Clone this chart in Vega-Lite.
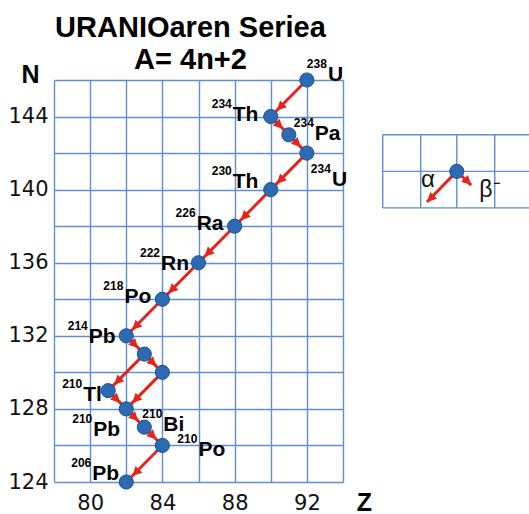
{
  "$schema": "https://vega.github.io/schema/vega-lite/v6.json",
  "width": 289,
  "height": 402,
  "autosize": "none",
  "padding": {"left": 54, "top": 80, "right": 186, "bottom": 32},
  "background": "white",
  "config": {
    "view": {"stroke": null},
    "font": "Liberation Sans",
    "axis": {
      "domain": false,
      "ticks": false,
      "grid": true,
      "gridColor": "#5f8fcf",
      "gridWidth": 1.4,
      "gridOpacity": 1,
      "tickCount": 40,
      "format": "d",
      "labelOverlap": false,
      "labelBound": false,
      "labelFlush": false,
      "labelFont": "DejaVu Sans",
      "labelFontSize": 21,
      "labelColor": "#111111",
      "titleFont": "Liberation Sans",
      "titleFontSize": 25,
      "titleFontWeight": "bold",
      "titleColor": "#000000"
    },
    "axisX": {"labelPadding": 10, "titleX": 310, "titleY": 28, "titleBaseline": "alphabetic", "titleAlign": "center"},
    "axisY": {"labelPadding": 6, "titleAngle": 0, "titleX": -24, "titleY": 2, "titleBaseline": "alphabetic", "titleAlign": "center"}
  },
  "title": {
    "text": ["URANIOaren Seriea", "A= 4n+2"],
    "font": "Liberation Sans",
    "fontSize": 29,
    "fontWeight": "bold",
    "color": "#000000",
    "anchor": "middle",
    "dx": -8,
    "offset": -17,
    "lineHeight": 32
  },
  "datasets": {
    "nuclides": [
      {"id": "238U", "A": "238", "sym": "U", "Z": 92, "N": 146},
      {"id": "234Th", "A": "234", "sym": "Th", "Z": 90, "N": 144},
      {"id": "234Pa", "A": "234", "sym": "Pa", "Z": 91, "N": 143},
      {"id": "234U", "A": "234", "sym": "U", "Z": 92, "N": 142},
      {"id": "230Th", "A": "230", "sym": "Th", "Z": 90, "N": 140},
      {"id": "226Ra", "A": "226", "sym": "Ra", "Z": 88, "N": 138},
      {"id": "222Rn", "A": "222", "sym": "Rn", "Z": 86, "N": 136},
      {"id": "218Po", "A": "218", "sym": "Po", "Z": 84, "N": 134},
      {"id": "214Pb", "A": "214", "sym": "Pb", "Z": 82, "N": 132},
      {"id": "214Bi", "A": "214", "sym": "Bi", "Z": 83, "N": 131},
      {"id": "214Po", "A": "214", "sym": "Po", "Z": 84, "N": 130},
      {"id": "210Tl", "A": "210", "sym": "Tl", "Z": 81, "N": 129},
      {"id": "210Pb", "A": "210", "sym": "Pb", "Z": 82, "N": 128},
      {"id": "210Bi", "A": "210", "sym": "Bi", "Z": 83, "N": 127},
      {"id": "210Po", "A": "210", "sym": "Po", "Z": 84, "N": 126},
      {"id": "206Pb", "A": "206", "sym": "Pb", "Z": 82, "N": 124}
    ],
    "decays": [
      {"from": "238U", "to": "234Th", "type": "alpha", "z1": 92, "n1": 146, "z2": 90, "n2": 144},
      {"from": "234Th", "to": "234Pa", "type": "beta", "z1": 90, "n1": 144, "z2": 91, "n2": 143},
      {"from": "234Pa", "to": "234U", "type": "beta", "z1": 91, "n1": 143, "z2": 92, "n2": 142},
      {"from": "234U", "to": "230Th", "type": "alpha", "z1": 92, "n1": 142, "z2": 90, "n2": 140},
      {"from": "230Th", "to": "226Ra", "type": "alpha", "z1": 90, "n1": 140, "z2": 88, "n2": 138},
      {"from": "226Ra", "to": "222Rn", "type": "alpha", "z1": 88, "n1": 138, "z2": 86, "n2": 136},
      {"from": "222Rn", "to": "218Po", "type": "alpha", "z1": 86, "n1": 136, "z2": 84, "n2": 134},
      {"from": "218Po", "to": "214Pb", "type": "alpha", "z1": 84, "n1": 134, "z2": 82, "n2": 132},
      {"from": "214Pb", "to": "214Bi", "type": "beta", "z1": 82, "n1": 132, "z2": 83, "n2": 131},
      {"from": "214Bi", "to": "214Po", "type": "beta", "z1": 83, "n1": 131, "z2": 84, "n2": 130},
      {"from": "214Bi", "to": "210Tl", "type": "alpha", "z1": 83, "n1": 131, "z2": 81, "n2": 129},
      {"from": "214Po", "to": "210Pb", "type": "alpha", "z1": 84, "n1": 130, "z2": 82, "n2": 128},
      {"from": "210Tl", "to": "210Pb", "type": "beta", "z1": 81, "n1": 129, "z2": 82, "n2": 128},
      {"from": "210Pb", "to": "210Bi", "type": "beta", "z1": 82, "n1": 128, "z2": 83, "n2": 127},
      {"from": "210Bi", "to": "210Po", "type": "beta", "z1": 83, "n1": 127, "z2": 84, "n2": 126},
      {"from": "210Po", "to": "206Pb", "type": "alpha", "z1": 84, "n1": 126, "z2": 82, "n2": 124}
    ],
    "keyarrows": [
      {"type": "alpha", "z1": 100.3, "n1": 141, "z2": 98.65, "n2": 139.32},
      {"type": "beta", "z1": 100.3, "n1": 141, "z2": 101.1, "n2": 140.25}
    ],
    "keypoint": [{"z": 100.3, "n": 141}],
    "keygrid": [
      {"z1": 96.2, "n1": 139, "z2": 96.2, "n2": 143},
      {"z1": 98.3, "n1": 139, "z2": 98.3, "n2": 143},
      {"z1": 100.3, "n1": 139, "z2": 100.3, "n2": 143},
      {"z1": 102.4, "n1": 139, "z2": 102.4, "n2": 143},
      {"z1": 96.2, "n1": 143, "z2": 104.3, "n2": 143},
      {"z1": 96.2, "n1": 141, "z2": 104.3, "n2": 141},
      {"z1": 96.2, "n1": 139, "z2": 104.3, "n2": 139}
    ],
    "keytext": [
      {"label": "α", "z": 98.7, "n": 140.15, "side": "center"},
      {"label": "β⁻", "z": 101.55, "n": 139.6, "side": "left"}
    ]
  },
  "layer": [
    {
      "data": {"name": "keygrid"},
      "mark": {"type": "rule", "color": "#5f8fcf", "strokeWidth": 1.4},
      "encoding": {
        "x": {
          "field": "z1", "type": "quantitative",
          "scale": {"domain": [78, 94], "nice": false, "zero": false},
          "axis": {"title": "Z", "tickCount": 40, "format": "d", "values": [78, 80, 82, 84, 86, 88, 90, 92, 94], "labelExpr": "datum.value % 4 == 0 ? datum.label : ''"}
        },
        "y": {
          "field": "n1", "type": "quantitative",
          "scale": {"domain": [124, 146], "nice": false, "zero": false},
          "axis": {"title": "N", "tickCount": 40, "format": "d", "values": [124, 126, 128, 130, 132, 134, 136, 138, 140, 142, 144, 146], "labelExpr": "datum.value % 4 == 0 ? datum.label : ''"}
        },
        "x2": {"field": "z2"},
        "y2": {"field": "n2"}
      }
    },
    {
      "data": {"name": "decays"},
      "mark": {"type": "rule", "color": "#e3261d", "strokeWidth": 3},
      "encoding": {
        "x": {"field": "z1", "type": "quantitative"},
        "y": {"field": "n1", "type": "quantitative"},
        "x2": {"field": "z2"},
        "y2": {"field": "n2"}
      }
    },
    {
      "data": {"name": "decays"},
      "transform": [{"filter": "datum.type == 'alpha'"}],
      "mark": {"type": "point", "shape": "M0,8.5L-4.8,18L4.8,18Z", "size": 4, "filled": true, "color": "#e3261d", "opacity": 1, "strokeWidth": 0, "angle": 225},
      "encoding": {
        "x": {"field": "z2", "type": "quantitative"},
        "y": {"field": "n2", "type": "quantitative"}
      }
    },
    {
      "data": {"name": "decays"},
      "transform": [{"filter": "datum.type == 'beta'"}],
      "mark": {"type": "point", "shape": "M0,8.5L-4.8,18L4.8,18Z", "size": 4, "filled": true, "color": "#e3261d", "opacity": 1, "strokeWidth": 0, "angle": 135},
      "encoding": {
        "x": {"field": "z2", "type": "quantitative"},
        "y": {"field": "n2", "type": "quantitative"}
      }
    },
    {
      "data": {"name": "keyarrows"},
      "mark": {"type": "rule", "color": "#e3261d", "strokeWidth": 3},
      "encoding": {
        "x": {"field": "z1", "type": "quantitative"},
        "y": {"field": "n1", "type": "quantitative"},
        "x2": {"field": "z2"},
        "y2": {"field": "n2"}
      }
    },
    {
      "data": {"name": "keyarrows"},
      "transform": [{"filter": "datum.type == 'alpha'"}],
      "mark": {"type": "point", "shape": "M0,0L-4.8,9.5L4.8,9.5Z", "size": 4, "filled": true, "color": "#e3261d", "opacity": 1, "strokeWidth": 0, "angle": 225},
      "encoding": {
        "x": {"field": "z2", "type": "quantitative"},
        "y": {"field": "n2", "type": "quantitative"}
      }
    },
    {
      "data": {"name": "keyarrows"},
      "transform": [{"filter": "datum.type == 'beta'"}],
      "mark": {"type": "point", "shape": "M0,0L-4.8,9.5L4.8,9.5Z", "size": 4, "filled": true, "color": "#e3261d", "opacity": 1, "strokeWidth": 0, "angle": 135},
      "encoding": {
        "x": {"field": "z2", "type": "quantitative"},
        "y": {"field": "n2", "type": "quantitative"}
      }
    },
    {
      "data": {"name": "nuclides"},
      "mark": {"type": "point", "shape": "circle", "size": 200, "filled": true, "fill": "#2c6bb4", "stroke": "#1f4f8c", "strokeWidth": 1, "opacity": 1},
      "encoding": {
        "x": {"field": "Z", "type": "quantitative"},
        "y": {"field": "N", "type": "quantitative"}
      }
    },
    {
      "data": {"name": "keypoint"},
      "mark": {"type": "point", "shape": "circle", "size": 200, "filled": true, "fill": "#2c6bb4", "stroke": "#1f4f8c", "strokeWidth": 1, "opacity": 1},
      "encoding": {
        "x": {"field": "z", "type": "quantitative"},
        "y": {"field": "n", "type": "quantitative"}
      }
    },
    {
      "data": {"name": "keytext"},
      "transform": [{"filter": "datum.side == 'center'"}],
      "mark": {"type": "text", "align": "center", "baseline": "alphabetic", "fontSize": 24, "color": "#111111"},
      "encoding": {
        "x": {"field": "z", "type": "quantitative"},
        "y": {"field": "n", "type": "quantitative"},
        "text": {"field": "label"}
      }
    },
    {
      "data": {"name": "keytext"},
      "transform": [{"filter": "datum.side == 'left'"}],
      "mark": {"type": "text", "align": "left", "baseline": "alphabetic", "fontSize": 23, "color": "#111111"},
      "encoding": {
        "x": {"field": "z", "type": "quantitative"},
        "y": {"field": "n", "type": "quantitative"},
        "text": {"field": "label"}
      }
    },
    {
      "data": {"name": "nuclides"},
      "transform": [{"filter": {"field": "id", "oneOf": ["234Th", "226Ra", "218Po"]}}],
      "encoding": {"x": {"field": "Z", "type": "quantitative"}, "y": {"field": "N", "type": "quantitative"}},
      "layer": [
        {"mark": {"type": "text", "align": "right", "baseline": "alphabetic", "dx": -39, "dy": -9, "fontSize": 12, "fontWeight": "bold", "color": "#000"}, "encoding": {"text": {"field": "A"}}},
        {"mark": {"type": "text", "align": "left", "baseline": "alphabetic", "dx": -38, "dy": 4, "fontSize": 21, "fontWeight": "bold", "color": "#000"}, "encoding": {"text": {"field": "sym"}}}
      ]
    },
    {
      "data": {"name": "nuclides"},
      "transform": [{"filter": {"field": "id", "oneOf": ["222Rn", "214Pb"]}}],
      "encoding": {"x": {"field": "Z", "type": "quantitative"}, "y": {"field": "N", "type": "quantitative"}},
      "layer": [
        {"mark": {"type": "text", "align": "right", "baseline": "alphabetic", "dx": -38.5, "dy": -5.5, "fontSize": 12, "fontWeight": "bold", "color": "#000"}, "encoding": {"text": {"field": "A"}}},
        {"mark": {"type": "text", "align": "left", "baseline": "alphabetic", "dx": -37.5, "dy": 7.5, "fontSize": 21, "fontWeight": "bold", "color": "#000"}, "encoding": {"text": {"field": "sym"}}}
      ]
    },
    {
      "data": {"name": "nuclides"},
      "transform": [{"filter": {"field": "id", "oneOf": ["230Th"]}}],
      "encoding": {"x": {"field": "Z", "type": "quantitative"}, "y": {"field": "N", "type": "quantitative"}},
      "layer": [
        {"mark": {"type": "text", "align": "right", "baseline": "alphabetic", "dx": -39, "dy": -15, "fontSize": 12, "fontWeight": "bold", "color": "#000"}, "encoding": {"text": {"field": "A"}}},
        {"mark": {"type": "text", "align": "left", "baseline": "alphabetic", "dx": -38, "dy": -2, "fontSize": 21, "fontWeight": "bold", "color": "#000"}, "encoding": {"text": {"field": "sym"}}}
      ]
    },
    {
      "data": {"name": "nuclides"},
      "transform": [{"filter": {"field": "id", "oneOf": ["210Tl"]}}],
      "encoding": {"x": {"field": "Z", "type": "quantitative"}, "y": {"field": "N", "type": "quantitative"}},
      "layer": [
        {"mark": {"type": "text", "align": "right", "baseline": "alphabetic", "dx": -26, "dy": -3, "fontSize": 12, "fontWeight": "bold", "color": "#000"}, "encoding": {"text": {"field": "A"}}},
        {"mark": {"type": "text", "align": "left", "baseline": "alphabetic", "dx": -25, "dy": 10, "fontSize": 21, "fontWeight": "bold", "color": "#000"}, "encoding": {"text": {"field": "sym"}}}
      ]
    },
    {
      "data": {"name": "nuclides"},
      "transform": [{"filter": {"field": "id", "oneOf": ["210Pb"]}}],
      "encoding": {"x": {"field": "Z", "type": "quantitative"}, "y": {"field": "N", "type": "quantitative"}},
      "layer": [
        {"mark": {"type": "text", "align": "right", "baseline": "alphabetic", "dx": -34, "dy": 14, "fontSize": 12, "fontWeight": "bold", "color": "#000"}, "encoding": {"text": {"field": "A"}}},
        {"mark": {"type": "text", "align": "left", "baseline": "alphabetic", "dx": -33, "dy": 27, "fontSize": 21, "fontWeight": "bold", "color": "#000"}, "encoding": {"text": {"field": "sym"}}}
      ]
    },
    {
      "data": {"name": "nuclides"},
      "transform": [{"filter": {"field": "id", "oneOf": ["206Pb"]}}],
      "encoding": {"x": {"field": "Z", "type": "quantitative"}, "y": {"field": "N", "type": "quantitative"}},
      "layer": [
        {"mark": {"type": "text", "align": "right", "baseline": "alphabetic", "dx": -35, "dy": -15, "fontSize": 12, "fontWeight": "bold", "color": "#000"}, "encoding": {"text": {"field": "A"}}},
        {"mark": {"type": "text", "align": "left", "baseline": "alphabetic", "dx": -34, "dy": -2, "fontSize": 21, "fontWeight": "bold", "color": "#000"}, "encoding": {"text": {"field": "sym"}}}
      ]
    },
    {
      "data": {"name": "nuclides"},
      "transform": [{"filter": {"field": "id", "oneOf": ["238U"]}}],
      "encoding": {"x": {"field": "Z", "type": "quantitative"}, "y": {"field": "N", "type": "quantitative"}},
      "layer": [
        {"mark": {"type": "text", "align": "right", "baseline": "alphabetic", "dx": 20, "dy": -12, "fontSize": 12, "fontWeight": "bold", "color": "#000"}, "encoding": {"text": {"field": "A"}}},
        {"mark": {"type": "text", "align": "left", "baseline": "alphabetic", "dx": 21, "dy": 1, "fontSize": 21, "fontWeight": "bold", "color": "#000"}, "encoding": {"text": {"field": "sym"}}}
      ]
    },
    {
      "data": {"name": "nuclides"},
      "transform": [{"filter": {"field": "id", "oneOf": ["234Pa"]}}],
      "encoding": {"x": {"field": "Z", "type": "quantitative"}, "y": {"field": "N", "type": "quantitative"}},
      "layer": [
        {"mark": {"type": "text", "align": "right", "baseline": "alphabetic", "dx": 25, "dy": -8, "fontSize": 12, "fontWeight": "bold", "color": "#000"}, "encoding": {"text": {"field": "A"}}},
        {"mark": {"type": "text", "align": "left", "baseline": "alphabetic", "dx": 26, "dy": 5, "fontSize": 21, "fontWeight": "bold", "color": "#000"}, "encoding": {"text": {"field": "sym"}}}
      ]
    },
    {
      "data": {"name": "nuclides"},
      "transform": [{"filter": {"field": "id", "oneOf": ["234U"]}}],
      "encoding": {"x": {"field": "Z", "type": "quantitative"}, "y": {"field": "N", "type": "quantitative"}},
      "layer": [
        {"mark": {"type": "text", "align": "right", "baseline": "alphabetic", "dx": 24, "dy": 20, "fontSize": 12, "fontWeight": "bold", "color": "#000"}, "encoding": {"text": {"field": "A"}}},
        {"mark": {"type": "text", "align": "left", "baseline": "alphabetic", "dx": 25, "dy": 33, "fontSize": 21, "fontWeight": "bold", "color": "#000"}, "encoding": {"text": {"field": "sym"}}}
      ]
    },
    {
      "data": {"name": "nuclides"},
      "transform": [{"filter": {"field": "id", "oneOf": ["210Bi"]}}],
      "encoding": {"x": {"field": "Z", "type": "quantitative"}, "y": {"field": "N", "type": "quantitative"}},
      "layer": [
        {"mark": {"type": "text", "align": "right", "baseline": "alphabetic", "dx": 18, "dy": -9, "fontSize": 12, "fontWeight": "bold", "color": "#000"}, "encoding": {"text": {"field": "A"}}},
        {"mark": {"type": "text", "align": "left", "baseline": "alphabetic", "dx": 19, "dy": 4, "fontSize": 21, "fontWeight": "bold", "color": "#000"}, "encoding": {"text": {"field": "sym"}}}
      ]
    },
    {
      "data": {"name": "nuclides"},
      "transform": [{"filter": {"field": "id", "oneOf": ["210Po"]}}],
      "encoding": {"x": {"field": "Z", "type": "quantitative"}, "y": {"field": "N", "type": "quantitative"}},
      "layer": [
        {"mark": {"type": "text", "align": "right", "baseline": "alphabetic", "dx": 35, "dy": -2, "fontSize": 12, "fontWeight": "bold", "color": "#000"}, "encoding": {"text": {"field": "A"}}},
        {"mark": {"type": "text", "align": "left", "baseline": "alphabetic", "dx": 36, "dy": 11, "fontSize": 21, "fontWeight": "bold", "color": "#000"}, "encoding": {"text": {"field": "sym"}}}
      ]
    }
  ]
}
